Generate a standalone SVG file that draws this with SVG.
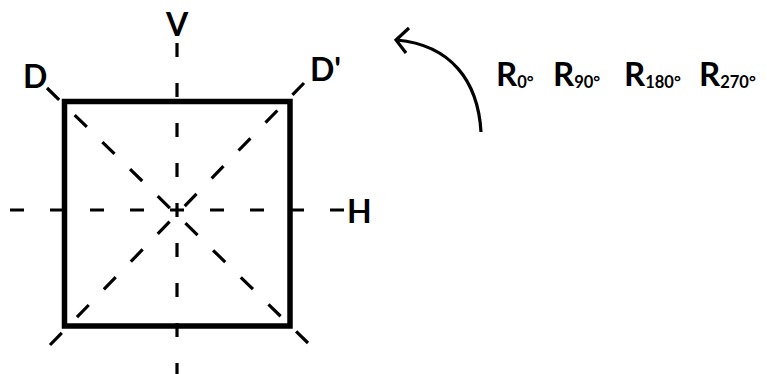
<svg xmlns="http://www.w3.org/2000/svg" width="767" height="374" viewBox="0 0 767 374">
<style>
.lbl{font-family:Lato,"Liberation Sans",sans-serif;font-weight:bold;font-size:32px;fill:#000}
.rr{font-size:33px}
.sub{font-size:16.5px}
.axis{stroke:#000;stroke-width:3.2;fill:none}
.edge{stroke:#000;stroke-width:5.5;fill:none}
</style>
<rect width="767" height="374" fill="#fff"/>
<g id="axes">
<line class="axis" x1="177" y1="43" x2="177" y2="374" stroke-dasharray="14 26"/>
<line class="axis" x1="10" y1="210" x2="344" y2="210" stroke-dasharray="14 26"/>
<line class="axis" x1="47" y1="88" x2="308" y2="343" stroke-dasharray="17 21.7"/>
<line class="axis" x1="50" y1="345" x2="304" y2="83" stroke-dasharray="17 21.7"/>
</g>
<g id="square">
<rect class="edge" x="64.5" y="101.5" width="225.5" height="224.5"/>
</g>
<g id="labels">
<text class="lbl" x="177" y="36" text-anchor="middle">V</text>
<text class="lbl" x="23" y="88">D</text>
<text class="lbl" x="310" y="81">D'</text>
<text class="lbl" x="347" y="223">H</text>
</g>
<g id="connectors">
<path class="axis" d="M481,132 C478,80 450,45 397,40" stroke-width="3.5"/>
<path class="axis" d="M409,28 L396,40 L406,53" stroke-width="3.5" stroke-linejoin="miter"/>
</g>
<g id="rotations">
<text class="lbl rr" x="496" y="86">R<tspan class="sub" dy="2">0°</tspan></text>
<text class="lbl rr" x="553" y="86">R<tspan class="sub" dy="2">90°</tspan></text>
<text class="lbl rr" x="624" y="86">R<tspan class="sub" dy="2">180°</tspan></text>
<text class="lbl rr" x="699" y="86">R<tspan class="sub" dy="2">270°</tspan></text>
</g>
</svg>
